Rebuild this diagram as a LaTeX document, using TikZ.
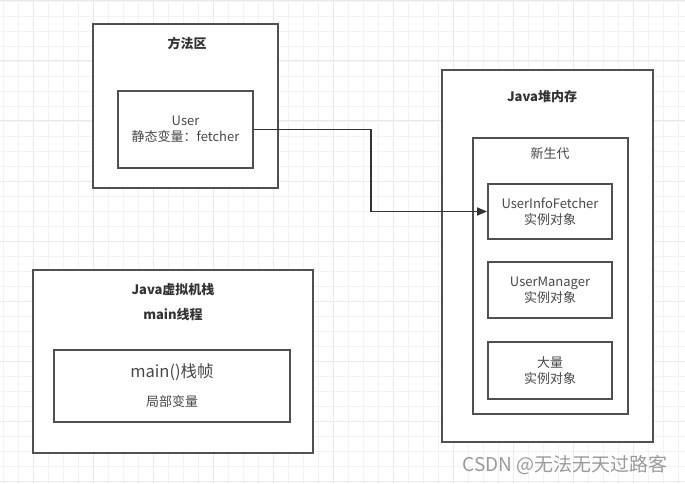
\documentclass[tikz,border=0pt]{standalone}
\usepackage{fontspec}
\setmainfont{Noto Sans CJK SC}
\usetikzlibrary{arrows.meta}
\definecolor{gridminor}{HTML}{F3F3F3}
\definecolor{gridmajor}{HTML}{EAEAEA}
\definecolor{boxc}{HTML}{505050}
\definecolor{txtc}{HTML}{333333}
\definecolor{txtl}{HTML}{484848}
\definecolor{wm}{HTML}{9A9A9A}
\tikzset{
  boxnode/.style={draw=boxc, line width=1.8pt, fill=white, inner sep=0pt},
  bodytext/.style={text=txtl, font=\fontsize{13}{16}\selectfont, align=center},
  titletext/.style={text=txtc, font=\fontsize{13}{16}\selectfont\bfseries, align=center},
  conn/.style={draw=txtc, line width=1.5pt, -{Triangle[length=10pt,width=8pt]}},
}
\begin{document}
\begin{tikzpicture}[x=1pt,y=-1pt]
\useasboundingbox (0,0) rectangle (685,484);
\fill[white] (0,0) rectangle (685,484);
% grid
\foreach \x in {3,18,...,685} \draw[gridminor, line width=0.8pt] (\x,0) -- (\x,484);
\foreach \y in {1,16,...,484} \draw[gridminor, line width=0.8pt] (0,\y) -- (685,\y);
\foreach \x in {33,93,...,685} \draw[gridmajor, line width=1pt] (\x,0) -- (\x,484);
\foreach \y in {1,61,...,484} \draw[gridmajor, line width=1pt] (0,\y) -- (685,\y);

% method area
\node[boxnode, minimum width=185pt, minimum height=164pt] (mth) at (185.5,106) {};
\node[titletext] (mthT) at (187,43) {方法区};
\node[boxnode, bodytext, minimum width=135pt, minimum height=77pt] (user) at (185.5,129.5) {User\\静态变量：fetcher};

% heap
\node[boxnode, minimum width=211pt, minimum height=372pt] (heap) at (547.5,256) {};
\node[titletext] (heapT) at (542,97) {Java堆内存};
\node[boxnode, minimum width=155pt, minimum height=276pt] (young) at (550.5,276) {};
\node[bodytext] (youngT) at (550,154) {新生代};
\node[boxnode, bodytext, minimum width=124pt, minimum height=55pt] (uif) at (550,211.5) {UserInfoFetcher\\实例对象};
\node[boxnode, bodytext, minimum width=124pt, minimum height=56pt] (um) at (550,290) {UserManager\\实例对象};
\node[boxnode, bodytext, minimum width=124pt, minimum height=57pt] (many) at (550,370.5) {大量\\实例对象};

% stack
\node[boxnode, minimum width=280pt, minimum height=183pt] (stk) at (173,361.5) {};
\node[titletext] (stkT1) at (173,290) {Java虚拟机栈};
\node[titletext] (stkT2) at (173,315) {main线程};
\node[boxnode, minimum width=236pt, minimum height=72pt] (frame) at (172,386) {};
\node[text=txtl, font=\fontsize{16.5}{18}\selectfont] (frameT) at (172,372) {main()栈帧};
\node[text=txtl, font=\fontsize{13}{15}\selectfont] (frameV) at (172,402) {局部变量};

% connector
\coordinate (bend) at (371,129.5);
\draw[conn] (user.east) -- (bend) |- (uif.west);

% watermark
\node[text=wm, font=\fontsize{19}{21}\selectfont, anchor=east] (wmk) at (671,465) {CSDN @无法无天过路客};
\end{tikzpicture}
\end{document}
